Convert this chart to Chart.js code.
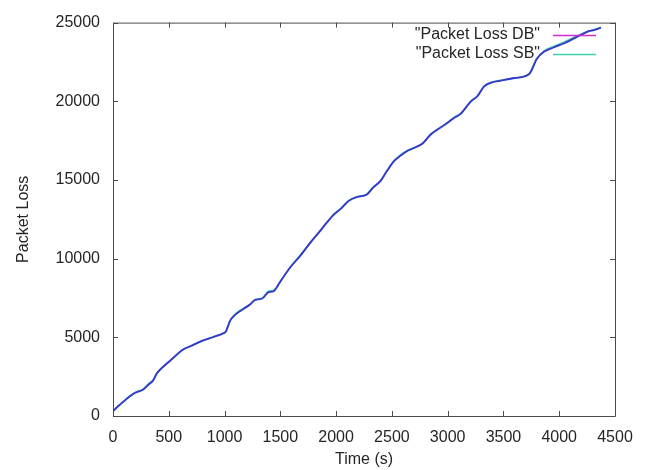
<!DOCTYPE html>
<html>
<head>
<meta charset="utf-8">
<script src="https://cdn.jsdelivr.net/npm/chart.js@4/dist/chart.umd.min.js"></script>
<style>
  html, body { margin: 0; padding: 0; background: #ffffff; }
  #wrap { width: 648px; height: 470px; }
</style>
</head>
<body>
<div id="wrap"><canvas id="c" width="648" height="470"></canvas></div>
<script>
// Time stamps (s) and cumulative packet loss for both runs
const timeDB = [0, 50, 92, 150, 200, 272, 320, 362, 392, 430, 482, 550, 617, 700, 797, 900, 991, 1010, 1051, 1090, 1126, 1171, 1230, 1275, 1335, 1395, 1440, 1500, 1590, 1680, 1770, 1850, 1917, 1980, 2039, 2114, 2189, 2250, 2279, 2330, 2398, 2450, 2518, 2580, 2638, 2700, 2773, 2847, 2920, 2997, 3060, 3117, 3207, 3267, 3326, 3400, 3476, 3600, 3731, 3800, 3866, 3950, 4046, 4120, 4195, 4270, 4300, 4374];
const lossDB = [300, 650, 905, 1250, 1480, 1690, 2000, 2280, 2700, 3000, 3335, 3750, 4180, 4450, 4770, 5020, 5270, 5350, 6075, 6400, 6600, 6815, 7100, 7385, 7450, 7870, 7930, 8550, 9450, 10190, 11030, 11700, 12300, 12800, 13145, 13670, 13920, 14000, 14095, 14500, 14940, 15500, 16200, 16550, 16835, 17050, 17300, 17890, 18250, 18630, 18950, 19200, 20000, 20320, 20950, 21200, 21310, 21480, 21730, 22700, 23160, 23420, 23690, 23950, 24220, 24470, 24500, 24680];

const timeSB = [0, 50, 92, 150, 200, 272, 320, 362, 392, 430, 482, 550, 617, 700, 797, 900, 991, 1010, 1051, 1090, 1126, 1171, 1230, 1275, 1335, 1395, 1440, 1500, 1590, 1680, 1770, 1850, 1917, 1980, 2039, 2114, 2189, 2250, 2279, 2330, 2398, 2450, 2518, 2580, 2638, 2700, 2773, 2847, 2920, 2997, 3060, 3117, 3207, 3267, 3326, 3400, 3476, 3600, 3731, 3800, 3866, 3950, 4046, 4120, 4195, 4270, 4300, 4374];
const lossSB = [300, 660, 910, 1240, 1490, 1720, 2060, 2300, 2690, 3010, 3330, 3760, 4170, 4460, 4760, 5030, 5260, 5350, 6060, 6420, 6640, 6830, 7090, 7400, 7470, 7930, 7990, 8540, 9470, 10230, 11000, 11720, 12280, 12830, 13160, 13700, 13930, 14010, 14110, 14520, 14920, 15530, 16180, 16600, 16870, 17040, 17320, 17870, 18270, 18610, 18990, 19230, 19960, 20350, 20930, 21220, 21330, 21470, 21760, 22720, 23200, 23480, 23760, 24010, 24250, 24460, 24520, 24690];

const seriesNames = ['"Packet Loss DB"', '"Packet Loss SB"'];
const lineColors = ['#3a36cc', '#44c8b4'];
const keyColors = ['#d22ad2', '#3fd0b0'];

const xTicks = [0, 500, 1000, 1500, 2000, 2500, 3000, 3500, 4000, 4500];
const yTicks = [0, 5000, 10000, 15000, 20000, 25000];

const toPoints = (ts, vs) => ts.map((t, i) => ({ x: t, y: vs[i] }));

const FONT = 'Liberation Sans, Arial, sans-serif';
const FRAME = '#4a4a4a';
const TEXT = '#262626';

// gnuplot-style frame with inward, mirrored tick marks
const framePlugin = {
  id: 'frame',
  afterDatasetsDraw(chart) {
    const { ctx, chartArea: a, scales } = chart;
    const len = 5;
    ctx.save();
    ctx.strokeStyle = FRAME;
    ctx.lineWidth = 1;
    ctx.beginPath();
    ctx.rect(a.left + 0.5, a.top + 0.5, a.right - a.left, a.bottom - a.top);
    ctx.stroke();
    ctx.beginPath();
    xTicks.forEach(v => {
      const px = Math.round(scales.x.getPixelForValue(v)) + 0.5;
      ctx.moveTo(px, a.bottom); ctx.lineTo(px, a.bottom - len);
      ctx.moveTo(px, a.top); ctx.lineTo(px, a.top + len);
    });
    yTicks.forEach(v => {
      const py = Math.round(scales.y.getPixelForValue(v)) + 0.5;
      ctx.moveTo(a.left, py); ctx.lineTo(a.left + len, py);
      ctx.moveTo(a.right, py); ctx.lineTo(a.right - len, py);
    });
    ctx.stroke();

    // key in the top-right corner: label, then a short line sample
    ctx.font = '16px ' + FONT;
    ctx.textAlign = 'right';
    ctx.textBaseline = 'middle';
    chart.data.datasets.forEach((ds, i) => {
      const y = a.top + 12 + i * 19;
      ctx.fillStyle = TEXT;
      ctx.fillText(ds.label, a.right - 75, y);
      ctx.strokeStyle = keyColors[i];
      ctx.lineWidth = 1.5;
      ctx.beginPath();
      ctx.moveTo(a.right - 62, y + 1);
      ctx.lineTo(a.right - 19, y + 1);
      ctx.stroke();
    });
    ctx.restore();
  }
};

new Chart(document.getElementById('c'), {
  type: 'line',
  data: {
    datasets: [
      {
        label: seriesNames[0],
        data: toPoints(timeDB, lossDB),
        borderColor: lineColors[0],
        borderWidth: 1.8,
        pointRadius: 0,
        cubicInterpolationMode: 'monotone',
        order: 1
      },
      {
        label: seriesNames[1],
        data: toPoints(timeSB, lossSB),
        borderColor: lineColors[1],
        borderWidth: 1.8,
        pointRadius: 0,
        cubicInterpolationMode: 'monotone',
        order: 2
      }
    ]
  },
  options: {
    responsive: false,
    animation: false,
    events: [],
    layout: { padding: { top: 21, right: 33, left: 0, bottom: 0 } },
    plugins: {
      legend: { display: false },
      tooltip: { enabled: false }
    },
    scales: {
      x: {
        type: 'linear',
        min: 0, max: 4500,
        afterBuildTicks: s => { s.ticks = xTicks.map(v => ({ value: v })); },
        afterFit: s => { s.height = 54; },
        grid: { display: false, drawTicks: false },
        border: { display: false },
        ticks: {
          color: TEXT,
          font: { family: FONT, size: 16 },
          padding: 12,
          maxRotation: 0,
          callback: v => String(v)
        },
        title: {
          display: true,
          text: 'Time (s)',
          color: TEXT,
          font: { family: FONT, size: 16 },
          padding: { top: 0, bottom: 1 }
        }
      },
      y: {
        type: 'linear',
        min: 0, max: 25000,
        afterBuildTicks: s => { s.ticks = yTicks.map(v => ({ value: v })); },
        afterFit: s => { s.width = 113; },
        grid: { display: false, drawTicks: false },
        border: { display: false },
        ticks: {
          color: TEXT,
          font: { family: FONT, size: 16 },
          padding: 13,
          callback: v => String(v)
        },
        title: {
          display: true,
          text: 'Packet Loss',
          color: TEXT,
          font: { family: FONT, size: 16 },
          padding: { top: 14, bottom: 0 }
        }
      }
    }
  },
  plugins: [framePlugin]
});
</script>
</body>
</html>
